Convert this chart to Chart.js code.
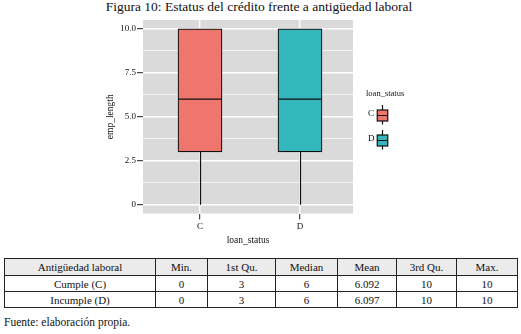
<!DOCTYPE html>
<html>
<head>
<meta charset="utf-8">
<script src="https://cdn.jsdelivr.net/npm/chart.js@4/dist/chart.umd.min.js"></script>
<style>
  html, body { margin: 0; padding: 0; background: #fff; width: 521px; height: 334px; overflow: hidden;
    font-family: "Liberation Serif", "Times New Roman", serif; color: #111; }
  #title { position: absolute; left: 0; top: -1px; width: 518px; text-align: center; font-size: 13.5px;
    line-height: 15px; white-space: nowrap; }
  #wrap { position: absolute; left: 0; top: 0; width: 521px; height: 252px; }
  #stats { position: absolute; left: 4px; top: 258px; border-collapse: collapse; table-layout: fixed;
    font-size: 11px; color: #111; }
  #stats td, #stats th { border: 1px solid #222; text-align: center; padding: 0; font-weight: normal; }
  #stats th { background: #ebebeb; height: 16px; }
  #stats td { height: 15px; }
  #note { position: absolute; left: 4px; top: 316px; font-size: 11.5px; line-height: 13px; }
</style>
</head>
<body>
<div id="title">Figura 10: Estatus del crédito frente a antigüedad laboral</div>
<div id="wrap"><canvas id="chart" width="521" height="252"></canvas></div>
<table id="stats"></table>
<div id="note">Fuente: elaboración propia.</div>
<script>
// Loan status groups and employment-length summary statistics
const categories = ['C', 'D'];
const groupNames = ['Cumple (C)', 'Incumple (D)'];
const minVals = [0, 0];
const q1Vals = [3, 3];
const medianVals = [6, 6];
const meanVals = [6.092, 6.097];
const q3Vals = [10, 10];
const maxVals = [10, 10];

// Axis ticks
const yMajorTicks = [0, 2.5, 5, 7.5, 10];
const yTickLabels = ['0', '2.5', '5.0', '7.5', '10.0'];
const yMinorTicks = [1.25, 3.75, 6.25, 8.75];

const tableHeader = ['Antigüedad laboral', 'Min.', '1st Qu.', 'Median', 'Mean', '3rd Qu.', 'Max.'];

const fillColors = ['#ee766c', '#33b7bc'];
const SERIF = '"Liberation Serif", "Times New Roman", serif';

// Summary table
(function buildTable() {
  const widths = [151, 52, 68, 62, 59, 60, 61];
  const t = document.getElementById('stats');
  const cg = document.createElement('colgroup');
  widths.forEach(w => { const c = document.createElement('col'); c.style.width = w + 'px'; cg.appendChild(c); });
  t.appendChild(cg);
  const hr = document.createElement('tr');
  tableHeader.forEach(h => { const th = document.createElement('th'); th.textContent = h; hr.appendChild(th); });
  t.appendChild(hr);
  groupNames.forEach((g, i) => {
    const tr = document.createElement('tr');
    [g, minVals[i], q1Vals[i], medianVals[i], meanVals[i], q3Vals[i], maxVals[i]].forEach(v => {
      const td = document.createElement('td'); td.textContent = String(v); tr.appendChild(td);
    });
    t.appendChild(tr);
  });
})();

// Grey panel behind the grid
const panelBg = {
  id: 'panelBg',
  beforeDraw(chart) {
    const { ctx, chartArea: a } = chart;
    ctx.save();
    ctx.fillStyle = '#dadada';
    ctx.fillRect(a.left, a.top, a.right - a.left, a.bottom - a.top);
    ctx.restore();
  }
};

// Whiskers and median lines on top of the boxes
const boxExtras = {
  id: 'boxExtras',
  afterDatasetsDraw(chart) {
    const { ctx } = chart;
    const ys = chart.scales.y;
    const meta = chart.getDatasetMeta(0);
    ctx.save();
    ctx.strokeStyle = '#111';
    ctx.lineWidth = 1.2;
    categories.forEach((c, i) => {
      const bar = meta.data[i];
      const cx = Math.round(bar.x) + 0.5;
      const half = bar.width / 2;
      ctx.beginPath();
      ctx.moveTo(cx, ys.getPixelForValue(q1Vals[i]));
      ctx.lineTo(cx, ys.getPixelForValue(minVals[i]));
      ctx.moveTo(cx, ys.getPixelForValue(q3Vals[i]));
      ctx.lineTo(cx, ys.getPixelForValue(maxVals[i]));
      const my = ys.getPixelForValue(medianVals[i]);
      ctx.moveTo(bar.x - half, my);
      ctx.lineTo(bar.x + half, my);
      ctx.stroke();
    });
    ctx.restore();
  }
};

// Legend with boxplot keys
const boxLegend = {
  id: 'boxLegend',
  afterDraw(chart) {
    const { ctx } = chart;
    ctx.save();
    ctx.fillStyle = '#111';
    ctx.textBaseline = 'middle';
    ctx.textAlign = 'left';
    ctx.font = '8.5px ' + SERIF;
    ctx.fillText('loan_status', 366, 94);
    ctx.font = '9px ' + SERIF;
    const centers = [115.5, 140.5];
    categories.forEach((c, i) => {
      const cy = centers[i];
      ctx.fillStyle = '#111';
      ctx.fillText(c, 368, cy - 1.5);
      const cx = 382.5, bw = 10.5, bh = 11;
      ctx.fillStyle = fillColors[i];
      ctx.fillRect(cx - bw / 2, cy - bh / 2, bw, bh);
      ctx.strokeStyle = '#111';
      ctx.lineWidth = 1.2;
      ctx.strokeRect(cx - bw / 2, cy - bh / 2, bw, bh);
      ctx.beginPath();
      ctx.moveTo(cx - bw / 2, cy); ctx.lineTo(cx + bw / 2, cy);
      ctx.moveTo(cx, cy - bh / 2); ctx.lineTo(cx, cy - 10.5);
      ctx.moveTo(cx, cy + bh / 2); ctx.lineTo(cx, cy + 9);
      ctx.stroke();
    });
    ctx.restore();
  }
};

const isMajor = v => yMajorTicks.includes(v);

new Chart(document.getElementById('chart'), {
  type: 'bar',
  data: {
    datasets: [{
      data: categories.map((c, i) => ({ x: i + 1, y: [q1Vals[i], q3Vals[i]] })),
      backgroundColor: fillColors,
      borderColor: '#111',
      borderWidth: 1.2,
      borderSkipped: false,
      barThickness: 44,
      grouped: false
    }]
  },
  options: {
    responsive: false,
    animation: false,
    events: [],
    layout: { padding: { left: 100, right: 168, top: 20, bottom: 0 } },
    plugins: {
      legend: { display: false },
      tooltip: { enabled: false },
      title: { display: false }
    },
    scales: {
      x: {
        type: 'linear',
        min: 0.43,
        max: 2.53,
        offset: false,
        afterBuildTicks: s => { s.ticks = categories.map((c, i) => ({ value: i + 1 })); },
        afterFit: s => { s.height = 38.5; },
        ticks: {
          callback: v => categories[v - 1],
          color: '#111',
          font: { family: SERIF, size: 9 },
          padding: 2,
          maxRotation: 0
        },
        grid: {
          offset: false,
          color: '#ffffff',
          lineWidth: 1.4,
          tickColor: '#222',
          tickWidth: 1,
          tickLength: 6
        },
        border: { display: false },
        title: {
          display: true,
          text: 'loan_status',
          color: '#111',
          font: { family: SERIF, size: 9.5 },
          padding: { top: 0, bottom: 6 }
        }
      },
      y: {
        type: 'linear',
        min: -0.5,
        max: 10.5,
        afterBuildTicks: s => {
          s.ticks = yMajorTicks.concat(yMinorTicks).sort((a, b) => a - b).map(v => ({ value: v }));
        },
        afterFit: s => { s.width = 43; },
        ticks: {
          autoSkip: false,
          callback: v => (isMajor(v) ? yTickLabels[yMajorTicks.indexOf(v)] : ''),
          color: '#111',
          font: { family: SERIF, size: 9 },
          padding: 1
        },
        grid: {
          color: '#ffffff',
          lineWidth: c => (isMajor(c.tick.value) ? 1.4 : 0.7),
          tickColor: c => (isMajor(c.tick.value) ? '#222' : 'rgba(0,0,0,0)'),
          tickWidth: 1,
          tickLength: 6
        },
        border: { display: false },
        title: {
          display: true,
          text: 'emp_length',
          color: '#111',
          font: { family: SERIF, size: 9.5 },
          padding: { top: 5, bottom: 0 }
        }
      }
    }
  },
  plugins: [panelBg, boxExtras, boxLegend]
});
</script>
</body>
</html>
